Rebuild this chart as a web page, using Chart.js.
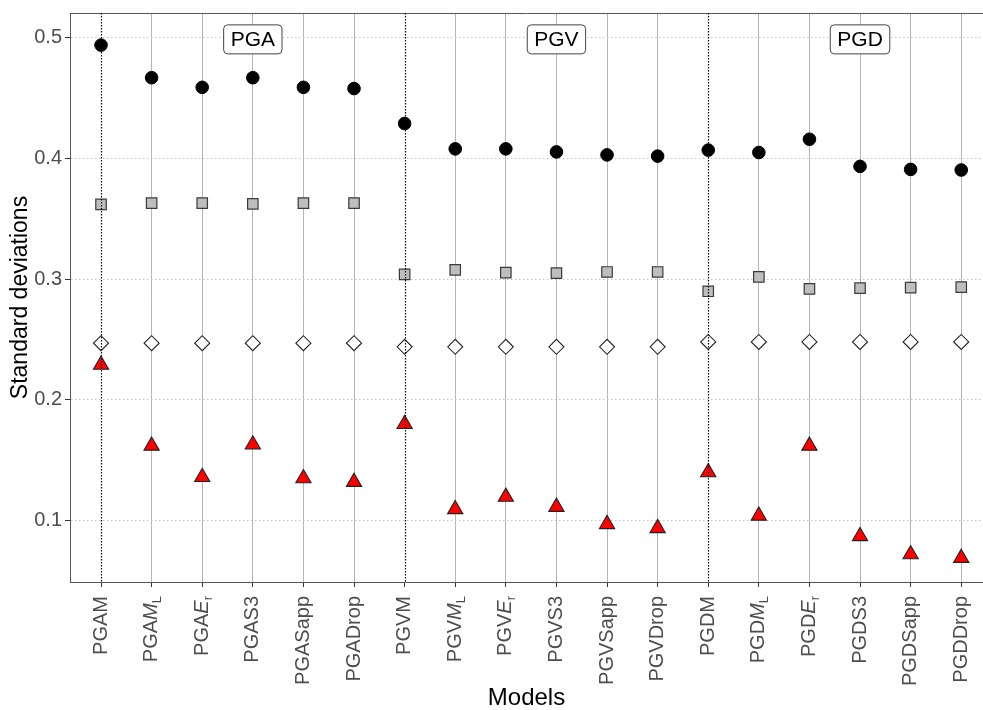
<!DOCTYPE html>
<html>
<head>
<meta charset="utf-8">
<script src="https://cdn.jsdelivr.net/npm/chart.js@4.4.1/dist/chart.umd.min.js"></script>
<style>
  html, body { margin: 0; padding: 0; background: #fff; overflow: hidden; }
  #wrap { width: 983px; height: 710px; }
</style>
</head>
<body>
<div id="wrap"><canvas id="sdChart" width="983" height="710"></canvas></div>
<script>
const models = ["PGAM", "PGAML", "PGAEr", "PGAS3", "PGASapp", "PGADrop",
    "PGVM", "PGVML", "PGVEr", "PGVS3", "PGVSapp", "PGVDrop",
    "PGDM", "PGDML", "PGDEr", "PGDS3", "PGDSapp", "PGDDrop"];

const circleVals = [0.494, 0.467, 0.459, 0.467, 0.459, 0.458,
    0.429, 0.408, 0.408, 0.4055, 0.403, 0.402,
    0.407, 0.405, 0.416, 0.3935, 0.391, 0.3905];
const squareVals = [0.362, 0.363, 0.363, 0.3625, 0.363, 0.363,
    0.304, 0.3077, 0.3055, 0.305, 0.306, 0.306,
    0.290, 0.302, 0.292, 0.2926, 0.293, 0.2934];
const diamondVals = [0.247, 0.247, 0.247, 0.247, 0.247, 0.247,
    0.244, 0.244, 0.244, 0.244, 0.244, 0.244,
    0.248, 0.248, 0.248, 0.248, 0.248, 0.248];
const triangleVals = [0.229, 0.162, 0.136, 0.163, 0.135, 0.132,
    0.180, 0.1094, 0.1196, 0.1113, 0.097, 0.0937,
    0.140, 0.104, 0.162, 0.087, 0.072, 0.069];

const yTicks = [0.1, 0.2, 0.3, 0.4, 0.5];
const groupNames = ["PGA", "PGV", "PGD"];
const groupLabelAt = [3, 9, 15];
const groupLabelY = 0.5;
const groupStarts = [0, 6, 12];

const FONT = "'Liberation Sans', Arial, sans-serif";

function toPoints(vals) {
    return vals.map((v, i) => ({ x: i, y: v }));
}

// split "PGAML" -> PGA + italic M + subscript L, "PGAEr" -> PGA + italic E + subscript r
function labelParts(name) {
    if (/ML$/.test(name)) return [{ t: name.slice(0, -2) }, { t: "M", it: true }, { t: "L", sub: true }];
    if (/Er$/.test(name)) return [{ t: name.slice(0, -2) }, { t: "E", it: true }, { t: "r", sub: true }];
    return [{ t: name }];
}

const extrasPlugin = {
    id: "extras",
    beforeDatasetsDraw(chart) {
        const { ctx, chartArea, scales } = chart;
        // top panel border
        ctx.save();
        ctx.strokeStyle = "#555";
        ctx.lineWidth = 1;
        ctx.beginPath();
        ctx.moveTo(chartArea.left, chartArea.top + 0.5);
        ctx.lineTo(chartArea.right, chartArea.top + 0.5);
        ctx.stroke();

        // group labels
        ctx.font = "21px " + FONT;
        ctx.textAlign = "center";
        ctx.textBaseline = "middle";
        groupNames.forEach((g, k) => {
            const cx = scales.x.getPixelForValue(groupLabelAt[k]);
            const cy = scales.y.getPixelForValue(groupLabelY) + 1.5;
            const w = ctx.measureText(g).width + 14;
            const h = 29;
            ctx.beginPath();
            ctx.roundRect(cx - w / 2, cy - h / 2, w, h, 4);
            ctx.fillStyle = "#fff";
            ctx.fill();
            ctx.strokeStyle = "#444";
            ctx.lineWidth = 1;
            ctx.stroke();
            ctx.fillStyle = "#000";
            ctx.fillText(g, cx, cy + 1);
        });
        ctx.restore();
    },
    afterDatasetsDraw(chart) {
        const { ctx, chartArea, scales } = chart;
        ctx.save();
        ctx.strokeStyle = "#000";
        ctx.lineWidth = 1.2;
        ctx.setLineDash([1.5, 1.5]);
        groupStarts.forEach(i => {
            const x = Math.round(scales.x.getPixelForValue(i)) + 0.5;
            ctx.beginPath();
            ctx.moveTo(x, chartArea.top);
            ctx.lineTo(x, chartArea.bottom);
            ctx.stroke();
        });
        ctx.restore();
    },
    afterDraw(chart) {
        const { ctx, chartArea, scales } = chart;
        ctx.save();
        ctx.fillStyle = "#4d4d4d";
        ctx.textAlign = "left";
        ctx.textBaseline = "middle";
        const fontFor = p => p.sub ? "13px " + FONT : (p.it ? "italic 20px " + FONT : "20px " + FONT);
        models.forEach((m, i) => {
            const parts = labelParts(m);
            const x = scales.x.getPixelForValue(i);
            let total = 0;
            parts.forEach(p => { ctx.font = fontFor(p); p.w = ctx.measureText(p.t).width; total += p.w; });
            ctx.save();
            ctx.translate(x, chartArea.bottom + 14);
            ctx.rotate(-Math.PI / 2);
            let cx = -total;
            parts.forEach(p => {
                ctx.font = fontFor(p);
                ctx.fillText(p.t, cx, p.sub ? 6 : 0);
                cx += p.w;
            });
            ctx.restore();
        });
        ctx.restore();
    }
};

const ctx = document.getElementById("sdChart").getContext("2d");

new Chart(ctx, {
    type: "scatter",
    data: {
        datasets: [
            {
                label: "circles",
                data: toPoints(circleVals),
                pointStyle: "circle",
                pointRadius: 6.3,
                backgroundColor: "#000",
                borderColor: "#000",
                borderWidth: 1
            },
            {
                label: "squares",
                data: toPoints(squareVals),
                pointStyle: "rect",
                pointRadius: 7.4,
                backgroundColor: "#bebebe",
                borderColor: "#3a3a3a",
                borderWidth: 1.2
            },
            {
                label: "diamonds",
                data: toPoints(diamondVals),
                pointStyle: "rectRot",
                pointRadius: 7.5,
                backgroundColor: "#fff",
                borderColor: "#222",
                borderWidth: 1.1
            },
            {
                label: "triangles",
                data: toPoints(triangleVals),
                pointStyle: "triangle",
                pointRadius: 8.8,
                backgroundColor: "#ff0000",
                borderColor: "#222",
                borderWidth: 1.1
            }
        ]
    },
    options: {
        responsive: false,
        animation: false,
        devicePixelRatio: 1,
        layout: { autoPadding: false, padding: { top: 10, right: 0, bottom: 0, left: 0 } },
        plugins: {
            legend: { display: false },
            tooltip: { enabled: false }
        },
        scales: {
            x: {
                type: "linear",
                min: -0.613,
                max: 17.43,
                afterBuildTicks: s => { s.ticks = models.map((m, i) => ({ value: i })); },
                afterFit: s => { s.height = 128; },
                ticks: { display: false },
                grid: {
                    color: c => groupStarts.includes(c.tick && c.tick.value) ? "rgba(0,0,0,0)" : "#b5b5b5",
                    lineWidth: 1,
                    tickLength: 5,
                    tickColor: "#333"
                },
                border: { color: "#555", width: 1 },
                title: {
                    display: true,
                    text: "Models",
                    color: "#000",
                    font: { family: FONT, size: 24, lineHeight: 1 },
                    padding: { top: 0, bottom: 0 }
                }
            },
            y: {
                min: 0.0491,
                max: 0.5206,
                afterBuildTicks: s => { s.ticks = yTicks.map(v => ({ value: v })); },
                afterFit: s => { s.width = 70; },
                ticks: {
                    color: "#4d4d4d",
                    font: { family: FONT, size: 20, lineHeight: 1 },
                    padding: 3,
                    callback: v => v.toFixed(1)
                },
                grid: {
                    color: "#c4c4c4",
                    lineWidth: 1,
                    tickLength: 5,
                    tickColor: "#333",
                    tickBorderDash: []
                },
                border: { color: "#555", width: 1, dash: [1.5, 2.5] },
                title: {
                    display: true,
                    text: "Standard deviations",
                    color: "#000",
                    font: { family: FONT, size: 23, lineHeight: 1 },
                    padding: { top: 9, bottom: 0 }
                }
            }
        }
    },
    plugins: [extrasPlugin]
});
</script>
</body>
</html>
